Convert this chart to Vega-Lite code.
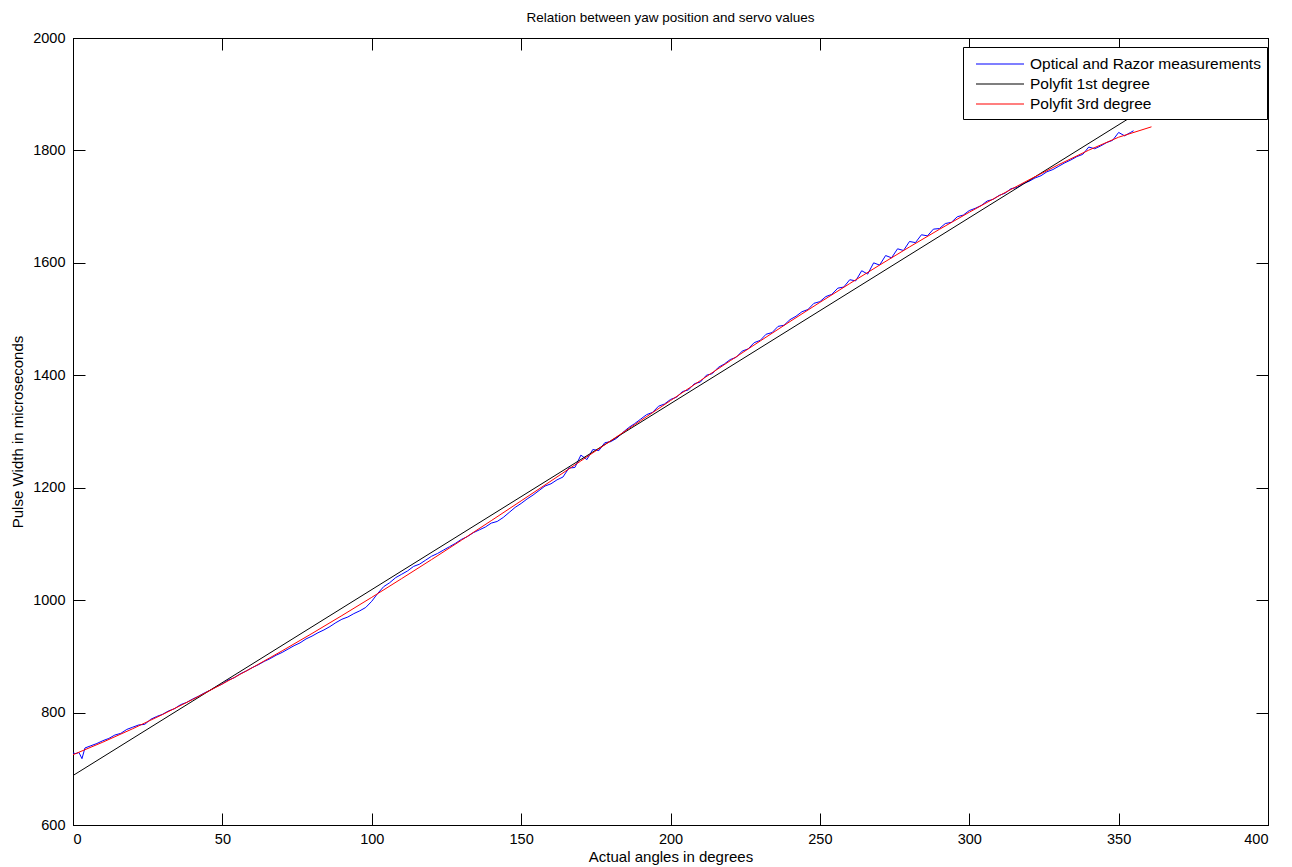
{
  "$schema": "https://vega.github.io/schema/vega-lite/v6.json",
  "width": 1195,
  "height": 787,
  "autosize": "none",
  "padding": {"left": 73, "top": 38, "right": 24, "bottom": 42},
  "background": "white",
  "config": {
    "font": "Liberation Sans",
    "view": {"stroke": "black", "strokeWidth": 1},
    "axis": {
      "grid": false,
      "domainColor": "black",
      "tickColor": "black",
      "labelColor": "black",
      "titleColor": "black",
      "labelFont": "Liberation Sans",
      "titleFont": "Liberation Sans",
      "labelFontSize": 14.5,
      "titleFontSize": 15,
      "titleFontWeight": "normal",
      "tickSize": -12,
      "format": "d"
    }
  },
  "title": {
    "text": "Relation between yaw position and servo values",
    "fontSize": 13.5,
    "fontWeight": "normal",
    "font": "Liberation Sans",
    "color": "black",
    "anchor": "middle",
    "offset": 6
  },
  "datasets": {
    "d": [
      {"s": "Optical and Razor measurements", "x": 0, "y": 728},
      {"s": "Optical and Razor measurements", "x": 1, "y": 727},
      {"s": "Optical and Razor measurements", "x": 2, "y": 729},
      {"s": "Optical and Razor measurements", "x": 3, "y": 718},
      {"s": "Optical and Razor measurements", "x": 4, "y": 737},
      {"s": "Optical and Razor measurements", "x": 6, "y": 741},
      {"s": "Optical and Razor measurements", "x": 8, "y": 745},
      {"s": "Optical and Razor measurements", "x": 10, "y": 750},
      {"s": "Optical and Razor measurements", "x": 12, "y": 754},
      {"s": "Optical and Razor measurements", "x": 14, "y": 760},
      {"s": "Optical and Razor measurements", "x": 16, "y": 763},
      {"s": "Optical and Razor measurements", "x": 18, "y": 770},
      {"s": "Optical and Razor measurements", "x": 20, "y": 774},
      {"s": "Optical and Razor measurements", "x": 22, "y": 778},
      {"s": "Optical and Razor measurements", "x": 24, "y": 779},
      {"s": "Optical and Razor measurements", "x": 26, "y": 788},
      {"s": "Optical and Razor measurements", "x": 28, "y": 793},
      {"s": "Optical and Razor measurements", "x": 30, "y": 797},
      {"s": "Optical and Razor measurements", "x": 32, "y": 803},
      {"s": "Optical and Razor measurements", "x": 34, "y": 807},
      {"s": "Optical and Razor measurements", "x": 36, "y": 814},
      {"s": "Optical and Razor measurements", "x": 38, "y": 818},
      {"s": "Optical and Razor measurements", "x": 40, "y": 824},
      {"s": "Optical and Razor measurements", "x": 42, "y": 829},
      {"s": "Optical and Razor measurements", "x": 44, "y": 835},
      {"s": "Optical and Razor measurements", "x": 46, "y": 840},
      {"s": "Optical and Razor measurements", "x": 48, "y": 846},
      {"s": "Optical and Razor measurements", "x": 50, "y": 851},
      {"s": "Optical and Razor measurements", "x": 52, "y": 858},
      {"s": "Optical and Razor measurements", "x": 54, "y": 862},
      {"s": "Optical and Razor measurements", "x": 56, "y": 869},
      {"s": "Optical and Razor measurements", "x": 58, "y": 874},
      {"s": "Optical and Razor measurements", "x": 60, "y": 880},
      {"s": "Optical and Razor measurements", "x": 62, "y": 885},
      {"s": "Optical and Razor measurements", "x": 64, "y": 891},
      {"s": "Optical and Razor measurements", "x": 66, "y": 896},
      {"s": "Optical and Razor measurements", "x": 68, "y": 902},
      {"s": "Optical and Razor measurements", "x": 70, "y": 907},
      {"s": "Optical and Razor measurements", "x": 72, "y": 913},
      {"s": "Optical and Razor measurements", "x": 74, "y": 919},
      {"s": "Optical and Razor measurements", "x": 76, "y": 924},
      {"s": "Optical and Razor measurements", "x": 78, "y": 931},
      {"s": "Optical and Razor measurements", "x": 80, "y": 936},
      {"s": "Optical and Razor measurements", "x": 82, "y": 942},
      {"s": "Optical and Razor measurements", "x": 84, "y": 947},
      {"s": "Optical and Razor measurements", "x": 86, "y": 953},
      {"s": "Optical and Razor measurements", "x": 88, "y": 960},
      {"s": "Optical and Razor measurements", "x": 90, "y": 966},
      {"s": "Optical and Razor measurements", "x": 92, "y": 970},
      {"s": "Optical and Razor measurements", "x": 94, "y": 976},
      {"s": "Optical and Razor measurements", "x": 96, "y": 981},
      {"s": "Optical and Razor measurements", "x": 98, "y": 987},
      {"s": "Optical and Razor measurements", "x": 100, "y": 998},
      {"s": "Optical and Razor measurements", "x": 102, "y": 1012},
      {"s": "Optical and Razor measurements", "x": 104, "y": 1024},
      {"s": "Optical and Razor measurements", "x": 106, "y": 1031},
      {"s": "Optical and Razor measurements", "x": 108, "y": 1040},
      {"s": "Optical and Razor measurements", "x": 110, "y": 1046},
      {"s": "Optical and Razor measurements", "x": 112, "y": 1052},
      {"s": "Optical and Razor measurements", "x": 114, "y": 1060},
      {"s": "Optical and Razor measurements", "x": 116, "y": 1064},
      {"s": "Optical and Razor measurements", "x": 118, "y": 1071},
      {"s": "Optical and Razor measurements", "x": 120, "y": 1078},
      {"s": "Optical and Razor measurements", "x": 122, "y": 1083},
      {"s": "Optical and Razor measurements", "x": 124, "y": 1089},
      {"s": "Optical and Razor measurements", "x": 126, "y": 1095},
      {"s": "Optical and Razor measurements", "x": 128, "y": 1101},
      {"s": "Optical and Razor measurements", "x": 130, "y": 1108},
      {"s": "Optical and Razor measurements", "x": 132, "y": 1113},
      {"s": "Optical and Razor measurements", "x": 134, "y": 1120},
      {"s": "Optical and Razor measurements", "x": 136, "y": 1125},
      {"s": "Optical and Razor measurements", "x": 138, "y": 1130},
      {"s": "Optical and Razor measurements", "x": 140, "y": 1137},
      {"s": "Optical and Razor measurements", "x": 142, "y": 1140},
      {"s": "Optical and Razor measurements", "x": 144, "y": 1147},
      {"s": "Optical and Razor measurements", "x": 146, "y": 1156},
      {"s": "Optical and Razor measurements", "x": 148, "y": 1165},
      {"s": "Optical and Razor measurements", "x": 150, "y": 1172},
      {"s": "Optical and Razor measurements", "x": 152, "y": 1180},
      {"s": "Optical and Razor measurements", "x": 154, "y": 1187},
      {"s": "Optical and Razor measurements", "x": 156, "y": 1195},
      {"s": "Optical and Razor measurements", "x": 158, "y": 1203},
      {"s": "Optical and Razor measurements", "x": 160, "y": 1207},
      {"s": "Optical and Razor measurements", "x": 162, "y": 1214},
      {"s": "Optical and Razor measurements", "x": 164, "y": 1219},
      {"s": "Optical and Razor measurements", "x": 166, "y": 1235},
      {"s": "Optical and Razor measurements", "x": 168, "y": 1236},
      {"s": "Optical and Razor measurements", "x": 170, "y": 1258},
      {"s": "Optical and Razor measurements", "x": 172, "y": 1250},
      {"s": "Optical and Razor measurements", "x": 174, "y": 1268},
      {"s": "Optical and Razor measurements", "x": 176, "y": 1266},
      {"s": "Optical and Razor measurements", "x": 178, "y": 1280},
      {"s": "Optical and Razor measurements", "x": 180, "y": 1282},
      {"s": "Optical and Razor measurements", "x": 182, "y": 1288},
      {"s": "Optical and Razor measurements", "x": 184, "y": 1298},
      {"s": "Optical and Razor measurements", "x": 186, "y": 1307},
      {"s": "Optical and Razor measurements", "x": 188, "y": 1314},
      {"s": "Optical and Razor measurements", "x": 190, "y": 1322},
      {"s": "Optical and Razor measurements", "x": 192, "y": 1330},
      {"s": "Optical and Razor measurements", "x": 194, "y": 1334},
      {"s": "Optical and Razor measurements", "x": 196, "y": 1345},
      {"s": "Optical and Razor measurements", "x": 198, "y": 1349},
      {"s": "Optical and Razor measurements", "x": 200, "y": 1357},
      {"s": "Optical and Razor measurements", "x": 202, "y": 1361},
      {"s": "Optical and Razor measurements", "x": 204, "y": 1371},
      {"s": "Optical and Razor measurements", "x": 206, "y": 1374},
      {"s": "Optical and Razor measurements", "x": 208, "y": 1385},
      {"s": "Optical and Razor measurements", "x": 210, "y": 1388},
      {"s": "Optical and Razor measurements", "x": 212, "y": 1400},
      {"s": "Optical and Razor measurements", "x": 214, "y": 1403},
      {"s": "Optical and Razor measurements", "x": 216, "y": 1414},
      {"s": "Optical and Razor measurements", "x": 218, "y": 1420},
      {"s": "Optical and Razor measurements", "x": 220, "y": 1428},
      {"s": "Optical and Razor measurements", "x": 222, "y": 1432},
      {"s": "Optical and Razor measurements", "x": 224, "y": 1443},
      {"s": "Optical and Razor measurements", "x": 226, "y": 1447},
      {"s": "Optical and Razor measurements", "x": 228, "y": 1458},
      {"s": "Optical and Razor measurements", "x": 230, "y": 1462},
      {"s": "Optical and Razor measurements", "x": 232, "y": 1473},
      {"s": "Optical and Razor measurements", "x": 234, "y": 1476},
      {"s": "Optical and Razor measurements", "x": 236, "y": 1487},
      {"s": "Optical and Razor measurements", "x": 238, "y": 1489},
      {"s": "Optical and Razor measurements", "x": 240, "y": 1499},
      {"s": "Optical and Razor measurements", "x": 242, "y": 1505},
      {"s": "Optical and Razor measurements", "x": 244, "y": 1513},
      {"s": "Optical and Razor measurements", "x": 246, "y": 1517},
      {"s": "Optical and Razor measurements", "x": 248, "y": 1528},
      {"s": "Optical and Razor measurements", "x": 250, "y": 1531},
      {"s": "Optical and Razor measurements", "x": 252, "y": 1540},
      {"s": "Optical and Razor measurements", "x": 254, "y": 1544},
      {"s": "Optical and Razor measurements", "x": 256, "y": 1555},
      {"s": "Optical and Razor measurements", "x": 258, "y": 1557},
      {"s": "Optical and Razor measurements", "x": 260, "y": 1570},
      {"s": "Optical and Razor measurements", "x": 262, "y": 1568},
      {"s": "Optical and Razor measurements", "x": 264, "y": 1586},
      {"s": "Optical and Razor measurements", "x": 266, "y": 1580},
      {"s": "Optical and Razor measurements", "x": 268, "y": 1600},
      {"s": "Optical and Razor measurements", "x": 270, "y": 1596},
      {"s": "Optical and Razor measurements", "x": 272, "y": 1613},
      {"s": "Optical and Razor measurements", "x": 274, "y": 1609},
      {"s": "Optical and Razor measurements", "x": 276, "y": 1625},
      {"s": "Optical and Razor measurements", "x": 278, "y": 1622},
      {"s": "Optical and Razor measurements", "x": 280, "y": 1638},
      {"s": "Optical and Razor measurements", "x": 282, "y": 1636},
      {"s": "Optical and Razor measurements", "x": 284, "y": 1650},
      {"s": "Optical and Razor measurements", "x": 286, "y": 1648},
      {"s": "Optical and Razor measurements", "x": 288, "y": 1660},
      {"s": "Optical and Razor measurements", "x": 290, "y": 1661},
      {"s": "Optical and Razor measurements", "x": 292, "y": 1670},
      {"s": "Optical and Razor measurements", "x": 294, "y": 1672},
      {"s": "Optical and Razor measurements", "x": 296, "y": 1682},
      {"s": "Optical and Razor measurements", "x": 298, "y": 1685},
      {"s": "Optical and Razor measurements", "x": 300, "y": 1693},
      {"s": "Optical and Razor measurements", "x": 302, "y": 1697},
      {"s": "Optical and Razor measurements", "x": 304, "y": 1702},
      {"s": "Optical and Razor measurements", "x": 306, "y": 1710},
      {"s": "Optical and Razor measurements", "x": 308, "y": 1713},
      {"s": "Optical and Razor measurements", "x": 310, "y": 1720},
      {"s": "Optical and Razor measurements", "x": 312, "y": 1724},
      {"s": "Optical and Razor measurements", "x": 314, "y": 1732},
      {"s": "Optical and Razor measurements", "x": 316, "y": 1734},
      {"s": "Optical and Razor measurements", "x": 318, "y": 1741},
      {"s": "Optical and Razor measurements", "x": 320, "y": 1745},
      {"s": "Optical and Razor measurements", "x": 322, "y": 1751},
      {"s": "Optical and Razor measurements", "x": 324, "y": 1755},
      {"s": "Optical and Razor measurements", "x": 326, "y": 1762},
      {"s": "Optical and Razor measurements", "x": 328, "y": 1766},
      {"s": "Optical and Razor measurements", "x": 330, "y": 1772},
      {"s": "Optical and Razor measurements", "x": 332, "y": 1778},
      {"s": "Optical and Razor measurements", "x": 334, "y": 1783},
      {"s": "Optical and Razor measurements", "x": 336, "y": 1789},
      {"s": "Optical and Razor measurements", "x": 338, "y": 1793},
      {"s": "Optical and Razor measurements", "x": 340, "y": 1806},
      {"s": "Optical and Razor measurements", "x": 342, "y": 1803},
      {"s": "Optical and Razor measurements", "x": 344, "y": 1808},
      {"s": "Optical and Razor measurements", "x": 346, "y": 1814},
      {"s": "Optical and Razor measurements", "x": 348, "y": 1818},
      {"s": "Optical and Razor measurements", "x": 350, "y": 1832},
      {"s": "Optical and Razor measurements", "x": 352, "y": 1826},
      {"s": "Optical and Razor measurements", "x": 354, "y": 1832},
      {"s": "Optical and Razor measurements", "x": 355, "y": 1835},
      {"s": "Polyfit 1st degree", "x": 0, "y": 688},
      {"s": "Polyfit 1st degree", "x": 361, "y": 1882},
      {"s": "Polyfit 3rd degree", "x": 0, "y": 725},
      {"s": "Polyfit 3rd degree", "x": 10, "y": 747.4},
      {"s": "Polyfit 3rd degree", "x": 20, "y": 771.3},
      {"s": "Polyfit 3rd degree", "x": 30, "y": 796.6},
      {"s": "Polyfit 3rd degree", "x": 40, "y": 823.2},
      {"s": "Polyfit 3rd degree", "x": 50, "y": 850.9},
      {"s": "Polyfit 3rd degree", "x": 60, "y": 879.8},
      {"s": "Polyfit 3rd degree", "x": 70, "y": 909.8},
      {"s": "Polyfit 3rd degree", "x": 80, "y": 940.7},
      {"s": "Polyfit 3rd degree", "x": 90, "y": 972.5},
      {"s": "Polyfit 3rd degree", "x": 100, "y": 1005.0},
      {"s": "Polyfit 3rd degree", "x": 110, "y": 1038.3},
      {"s": "Polyfit 3rd degree", "x": 120, "y": 1072.1},
      {"s": "Polyfit 3rd degree", "x": 130, "y": 1106.5},
      {"s": "Polyfit 3rd degree", "x": 140, "y": 1141.4},
      {"s": "Polyfit 3rd degree", "x": 150, "y": 1176.6},
      {"s": "Polyfit 3rd degree", "x": 160, "y": 1212.0},
      {"s": "Polyfit 3rd degree", "x": 170, "y": 1247.7},
      {"s": "Polyfit 3rd degree", "x": 180, "y": 1283.5},
      {"s": "Polyfit 3rd degree", "x": 190, "y": 1319.3},
      {"s": "Polyfit 3rd degree", "x": 200, "y": 1355.0},
      {"s": "Polyfit 3rd degree", "x": 210, "y": 1390.6},
      {"s": "Polyfit 3rd degree", "x": 220, "y": 1425.9},
      {"s": "Polyfit 3rd degree", "x": 230, "y": 1460.9},
      {"s": "Polyfit 3rd degree", "x": 240, "y": 1495.6},
      {"s": "Polyfit 3rd degree", "x": 250, "y": 1529.7},
      {"s": "Polyfit 3rd degree", "x": 260, "y": 1563.2},
      {"s": "Polyfit 3rd degree", "x": 270, "y": 1596.1},
      {"s": "Polyfit 3rd degree", "x": 280, "y": 1628.3},
      {"s": "Polyfit 3rd degree", "x": 290, "y": 1659.6},
      {"s": "Polyfit 3rd degree", "x": 300, "y": 1690.0},
      {"s": "Polyfit 3rd degree", "x": 310, "y": 1719.4},
      {"s": "Polyfit 3rd degree", "x": 320, "y": 1747.7},
      {"s": "Polyfit 3rd degree", "x": 330, "y": 1774.9},
      {"s": "Polyfit 3rd degree", "x": 340, "y": 1800.5},
      {"s": "Polyfit 3rd degree", "x": 350, "y": 1823.5},
      {"s": "Polyfit 3rd degree", "x": 361, "y": 1842}
    ]
  },
  "data": {"name": "d"},
  "layer": [
    {
      "mark": {"type": "line", "strokeWidth": 1, "interpolate": "linear"},
      "encoding": {
        "x": {
          "field": "x", "type": "quantitative",
          "scale": {"domain": [0, 400], "nice": false, "zero": false},
          "axis": {"values": [0, 50, 100, 150, 200, 250, 300, 350, 400], "title": "Actual angles in degrees", "labelPadding": 19, "titlePadding": 4}
        },
        "y": {
          "field": "y", "type": "quantitative",
          "scale": {"domain": [600, 2000], "nice": false, "zero": false},
          "axis": {"values": [600, 800, 1000, 1200, 1400, 1600, 1800, 2000], "title": "Pulse Width in microseconds", "labelPadding": 20, "titlePadding": 7}
        },
        "color": {
          "field": "s", "type": "nominal",
          "scale": {
            "domain": ["Optical and Razor measurements", "Polyfit 1st degree", "Polyfit 3rd degree"],
            "range": ["#0000ff", "#000000", "#ff0000"]
          },
          "legend": {
            "title": null,
            "orient": "none",
            "legendX": 890,
            "legendY": 9,
            "symbolType": "M-2.4,0H2.4",
            "symbolSize": 400,
            "symbolStrokeWidth": 1.2,
            "symbolFillColor": "transparent",
            "symbolOffset": 20,
            "labelFontSize": 15.5,
            "labelFont": "Liberation Sans",
            "labelColor": "black",
            "fillColor": "white",
            "strokeColor": "black",
            "padding": 6,
            "rowPadding": 0,
            "labelOffset": 19,
            "labelLimit": 400
          }
        },
        "order": {"field": "x", "type": "quantitative"}
      }
    },
    {
      "mark": {"type": "line", "opacity": 0},
      "encoding": {
        "x": {
          "field": "x", "type": "quantitative",
          "axis": {"orient": "top", "values": [0, 50, 100, 150, 200, 250, 300, 350, 400], "labels": false, "title": null}
        },
        "y": {
          "field": "y", "type": "quantitative",
          "axis": {"orient": "right", "values": [600, 800, 1000, 1200, 1400, 1600, 1800, 2000], "labels": false, "title": null}
        },
        "detail": {"field": "s", "type": "nominal"}
      }
    }
  ],
  "resolve": {"axis": {"x": "independent", "y": "independent"}}
}
